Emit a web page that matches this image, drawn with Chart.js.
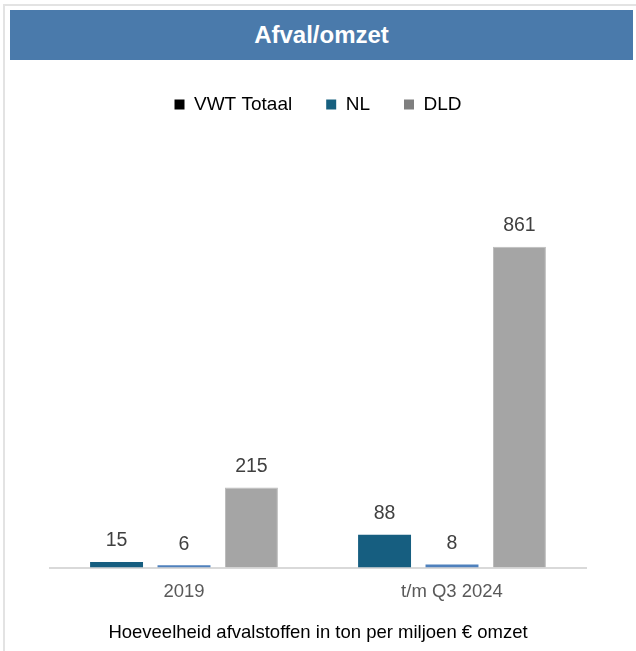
<!DOCTYPE html>
<html>
<head>
<meta charset="utf-8">
<script src="https://cdn.jsdelivr.net/npm/chart.js@4"></script>
<style>
  body { margin: 0; background: #fff; font-family: "Liberation Sans", Arial, sans-serif; }
  #frame { position: absolute; left: 3px; top: 4px; width: 640px; height: 660px;
           border-top: 2px solid #e3e3e3; border-left: 2px solid #e3e3e3; }
  #titleBar { position: absolute; left: 10px; top: 10px; width: 623px; height: 50px;
              background: #4a7aab; color: #fff; font-weight: bold; font-size: 24px;
              line-height: 50px; text-align: center; }
  #wrap { position: absolute; left: 0; top: 0; width: 636px; height: 651px; }
</style>
</head>
<body>
<div id="frame"></div>
<div id="wrap"><canvas id="afvalChart"></canvas></div>
<div id="titleBar">Afval/omzet</div>
<script>
const categories = ['2019', 't/m Q3 2024'];
const seriesNames = ['VWT Totaal', 'NL', 'DLD'];
const vwtTotaal = [15, 88];
const nl = [6, 8];
const dld = [215, 861];

const barColors = ['#165e80', '#4f81bd', '#a5a5a5'];
const legendColors = ['#000000', '#17607f', '#7f7f7f'];
const fontFamily = '"Liberation Sans", Arial, sans-serif';

// draws the value above each bar
const valueLabels = {
    id: 'valueLabels',
    afterDatasetsDraw(chart) {
        const c = chart.ctx;
        c.save();
        c.font = '19.5px ' + fontFamily;
        c.fillStyle = '#404040';
        c.textAlign = 'center';
        c.textBaseline = 'middle';
        chart.data.datasets.forEach((ds, i) => {
            chart.getDatasetMeta(i).data.forEach((bar, j) => {
                c.fillText(ds.data[j], bar.x, bar.y - 21);
            });
        });
        c.restore();
    }
};

const ctx = document.getElementById('afvalChart').getContext('2d');
const afvalChart = new Chart(ctx, {
    type: 'bar',
    data: {
        labels: categories,
        datasets: [
            { label: seriesNames[0], data: vwtTotaal, backgroundColor: barColors[0] },
            { label: seriesNames[1], data: nl, backgroundColor: barColors[1] },
            { label: seriesNames[2], data: dld, backgroundColor: barColors[2], borderColor: '#bdbdbd', borderWidth: 1 }
        ]
    },
    options: {
        responsive: true,
        maintainAspectRatio: false,
        animation: false,
        layout: { padding: { top: 61, left: 50, right: 50, bottom: 7 } },
        datasets: { bar: { categoryPercentage: 0.755, barPercentage: 0.785 } },
        plugins: {
            title: { display: false },
            tooltip: { enabled: false },
            legend: {
                position: 'top',
                labels: {
                    font: { size: 19, family: fontFamily },
                    color: '#1a1a1a',
                    boxWidth: 10,
                    boxHeight: 10,
                    padding: 34,
                    generateLabels: () => seriesNames.map((n, i) => ({
                        text: n,
                        fillStyle: legendColors[i],
                        strokeStyle: legendColors[i],
                        lineWidth: 0,
                        datasetIndex: i
                    }))
                }
            }
        },
        scales: {
            x: {
                grid: { display: false },
                border: { color: '#d9d9d9', width: 2 },
                ticks: { color: '#595959', font: { size: 18.5, family: fontFamily }, padding: 5 },
                title: {
                    display: true,
                    text: 'Hoeveelheid afvalstoffen in ton per miljoen € omzet',
                    color: '#000',
                    font: { size: 18.5, family: fontFamily },
                    padding: { top: 14, bottom: 0 }
                }
            },
            y: {
                display: false,
                min: 0,
                max: 1190
            }
        }
    },
    plugins: [valueLabels]
});
</script>
</body>
</html>
